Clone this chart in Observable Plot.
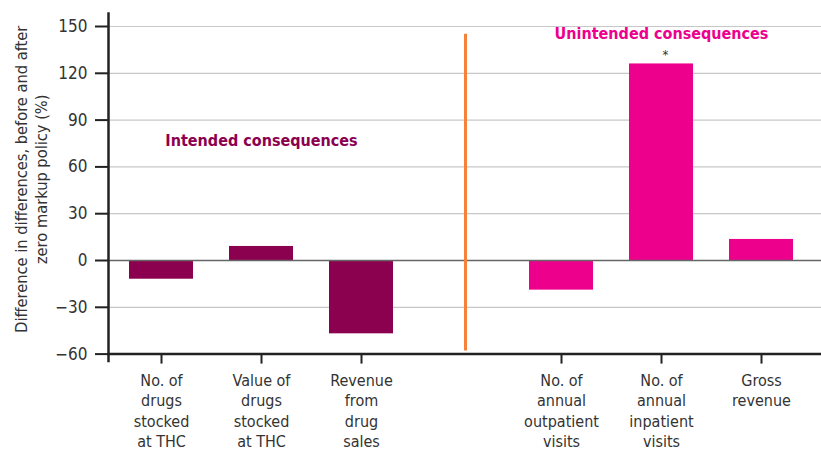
<!DOCTYPE html>
<html>
<head>
<meta charset="utf-8">
<script src="https://cdn.jsdelivr.net/npm/d3@7"></script>
<script src="https://cdn.jsdelivr.net/npm/@observablehq/plot@0.6"></script>
<style>
  html, body { margin: 0; padding: 0; background: #fff; }
  #chart svg { display: block; }
</style>
</head>
<body>
<div id="chart"></div>
<script>
const categories = [
  "No. of\ndrugs\nstocked\nat THC",
  "Value of\ndrugs\nstocked\nat THC",
  "Revenue\nfrom\ndrug\nsales",
  "No. of\nannual\noutpatient\nvisits",
  "No. of\nannual\ninpatient\nvisits",
  "Gross\nrevenue"
];
const values = [-12, 9, -47, -19, 126, 13.5];
const groups = ["Intended", "Intended", "Intended", "Unintended", "Unintended", "Unintended"];
const groupLabels = ["Intended consequences", "Unintended consequences"];
const yTicks = [-60, -30, 0, 30, 60, 90, 120, 150];
const gridTicks = [-30, 30, 60, 90, 120, 150];
const gap = "gap";
const significant = [categories[4]];

const data = categories.map((c, i) => ({category: c, value: values[i], group: groups[i]}));
const domain = [categories[0], categories[1], categories[2], gap, categories[3], categories[4], categories[5]];

const FONT = "'DejaVu Sans Condensed', 'DejaVu Sans', sans-serif";
const C_INT = "#8C0050";
const C_UN = "#EC008C";

const chart = Plot.plot({
  width: 821,
  height: 452,
  marginLeft: 108,
  marginRight: 0,
  marginTop: 26,
  marginBottom: 98.4,
  style: {fontFamily: FONT, fontSize: "16px", color: "#333", background: "#fff"},
  x: {domain, range: [108, 814], paddingInner: 0.36, paddingOuter: 0.21},
  y: {domain: [-60, 150]},
  color: {domain: ["Intended", "Unintended"], range: [C_INT, C_UN]},
  marks: [
    Plot.gridY(gridTicks, {stroke: "#c8c8c8", strokeOpacity: 1, strokeWidth: 1.2}),
    Plot.barY(data, {x: "category", y: "value", fill: "group"}),
    Plot.ruleY([0], {stroke: "#666", strokeWidth: 1.5}),
    Plot.ruleX([gap], {x: d => d, y1: 145, y2: -58, dx: 4, stroke: "#F5823A", strokeWidth: 3}),
    Plot.text(significant, {x: d => d, y: 126, text: () => "*", dx: 4, dy: -9, fontSize: 13, fill: "#333"}),
    Plot.text([groupLabels[0]], {x: [categories[1]], y: [77], text: d => d, fontWeight: "bold", fontSize: 16, fill: C_INT}),
    Plot.text([groupLabels[1]], {x: [categories[4]], y: [145], text: d => d, fontWeight: "bold", fontSize: 16, fill: C_UN}),
    Plot.axisY({ticks: yTicks, tickSize: 13, tickPadding: 8, stroke: "#222", strokeWidth: 2, fontSize: 17, fill: "#333", label: null}),
    Plot.axisX({ticks: categories, tickSize: 10, tickPadding: 7, stroke: "#222", strokeWidth: 2, fontSize: 16, lineHeight: 1.28, fill: "#333", label: null, textOverflow: null}),
    Plot.frame({anchor: "left", stroke: "#222", strokeWidth: 2.5, insetTop: -13, insetBottom: -7}),
    Plot.frame({anchor: "bottom", stroke: "#222", strokeWidth: 2.5}),
    Plot.text(["Difference in differences, before and after\nzero markup policy (%)"], {
      frameAnchor: "left", text: d => d, rotate: -90, dx: -78, dy: -11,
      fontSize: 16.3, lineHeight: 1.24, fill: "#333", textAnchor: "middle"
    })
  ]
});
document.getElementById("chart").appendChild(chart);
</script>
</body>
</html>
